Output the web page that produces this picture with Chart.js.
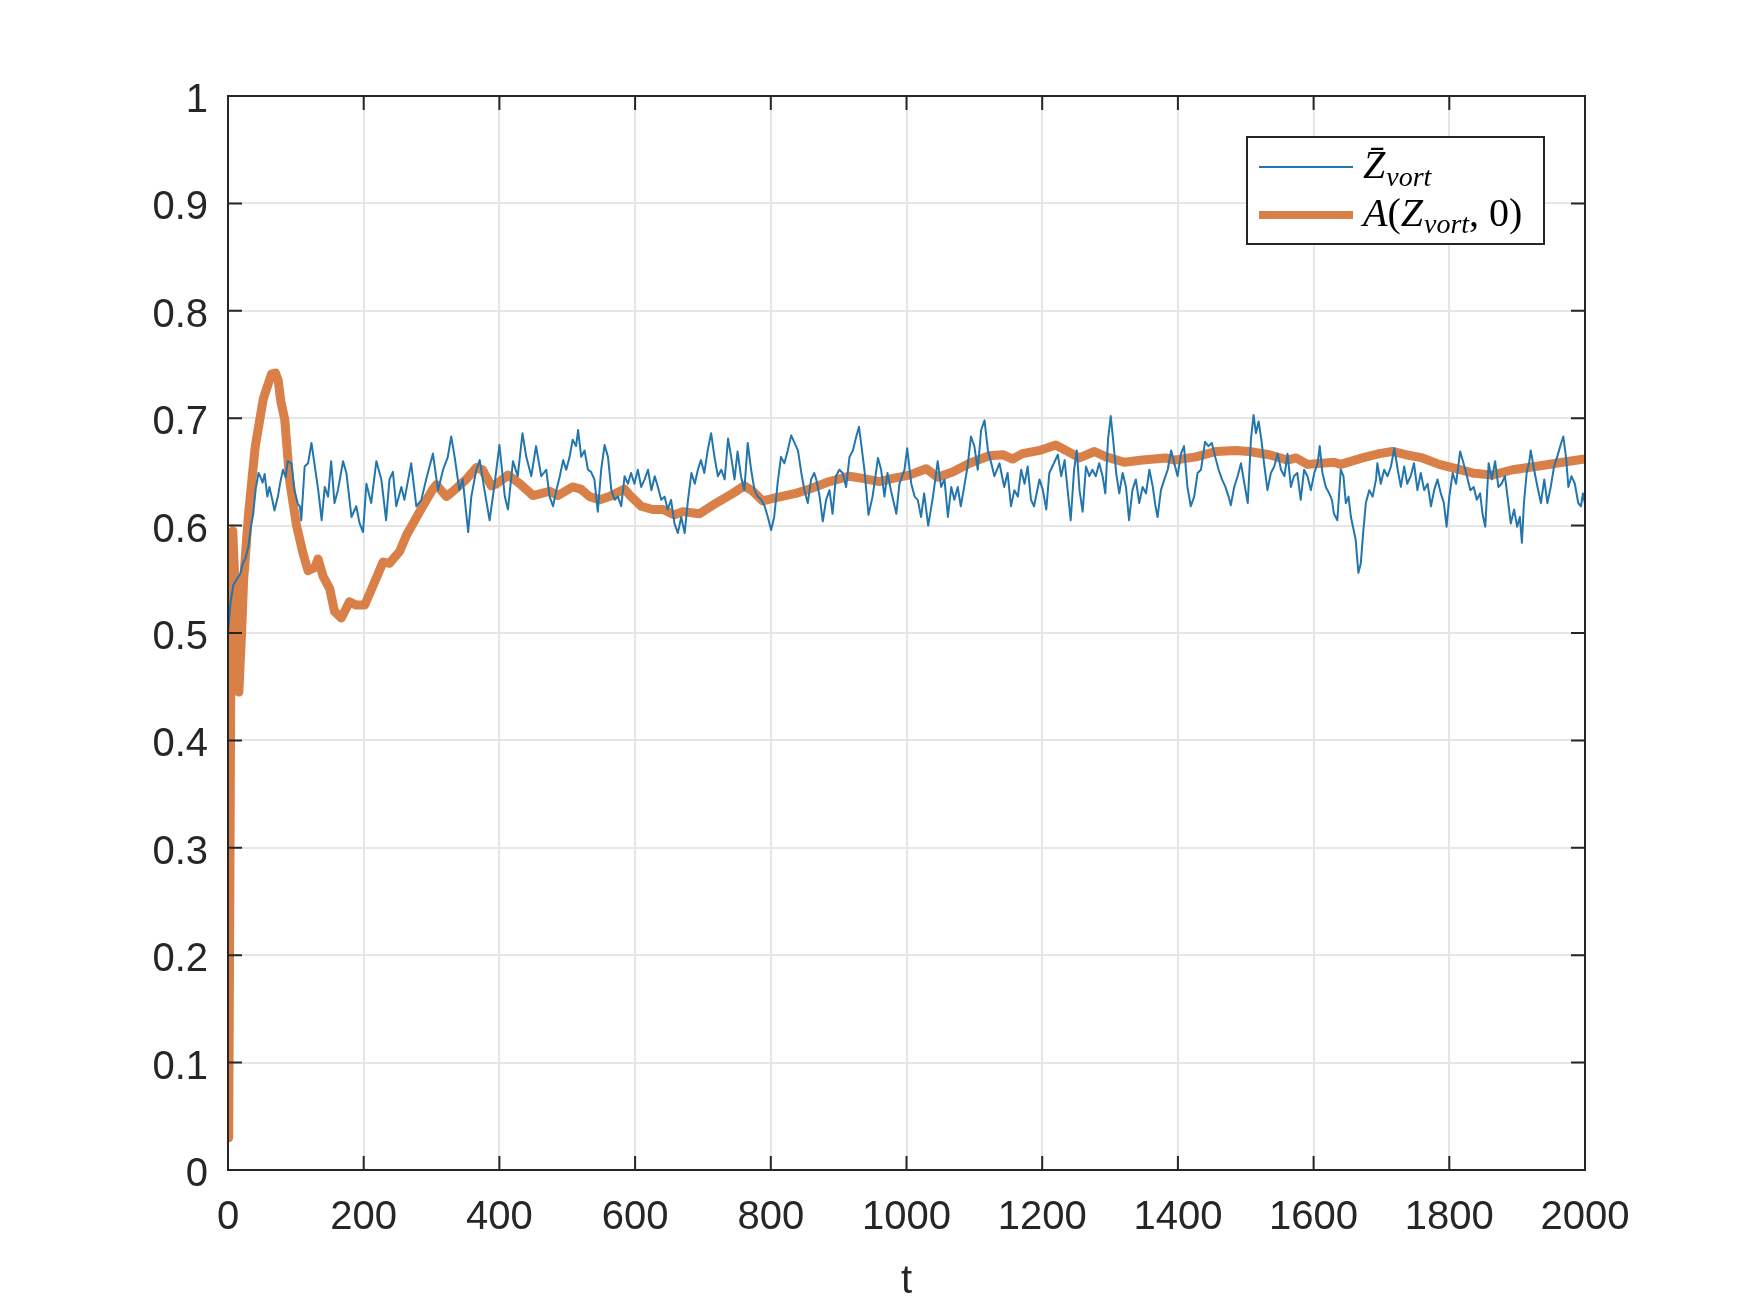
<!DOCTYPE html>
<html>
<head>
<meta charset="utf-8">
<script src="https://cdn.jsdelivr.net/npm/chart.js@4.4.1/dist/chart.umd.min.js"></script>
<style>
html,body{margin:0;padding:0;background:#fff;}
#wrap{width:1750px;height:1313px;}
</style>
</head>
<body>
<div id="wrap"><canvas id="c" width="1750" height="1313"></canvas></div>
<script>
// ---- data ----
const tBlue = [0,4,8,13,18,22,26,30,34,37,41,45,48,51,54,58,61,65,68.5,73.5,77,81,85,88,93.5,98,103,106,108,113,118,123,128,133,138,142.6,147.5,152,157,162,169.6,174.5,182,189,194,199,204,211,218.7,226,233,238,243,248,255.5,260,270,277.6,285,292,302,309.5,317,324,329,334,341,346,354,358.6,366,371,378,385.6,393,400,408,412.6,420,427,434,439.6,447,454,461.7,469,474,479,484,489,494,498.5,503.5,508,513,516,520.6,525.5,530.5,535,540,545,550,555,560,565,570,574.6,579.5,584.5,589.4,594,599,604,609,614,619,624,629,633.6,638.5,643.4,648,653,658,663,668,673,678,683,688,692.5,697,702,707,712,717,722,727,732,737,741.6,746.5,751,756,761,766,771,776,781,786,791,795.6,800.5,805,810,815,820,825,830,835,840,845,849.6,854.5,859.4,864,867,872,876.6,881.5,886.5,891,896,901,906,911,916,921,926,930,933,938,944,950,958,962.6,967.5,972,977,985,989.6,997,1001,1007,1012,1016.6,1021.5,1026,1032,1039,1046,1051,1056,1061,1066,1070.6,1075.5,1080,1085,1090,1095,1100,1105,1110,1115,1120,1125,1129.5,1137,1144,1149,1154,1159,1164,1169,1174,1178.6,1183.5,1188,1196,1201,1206,1210.5,1215,1223,1228,1233,1237.5,1242,1247,1251,1255,1259.6,1264.5,1269.5,1274,1279,1284,1289,1293,1297,1301,1305,1309,1313.6,1318.6,1323.5,1328,1333,1338,1343,1348,1353,1358,1363,1367,1370,1375,1380,1385,1390,1394.7,1399.6,1404.5,1409,1414,1419,1424,1429,1434,1440,1445,1450,1455,1460,1465,1470,1474.7,1478,1483,1488,1493,1498,1503,1507.6,1511.5,1515,1519,1523,1527,1532,1537,1542,1547,1552,1557,1561.6,1566.5,1571,1576,1581,1586,1591,1596,1601,1606,1609,1613,1618,1623,1627,1630,1635,1640,1644,1647.5,1651.5,1655,1658,1662,1666,1669.6,1673,1677,1682,1687,1692,1694,1699,1704,1709,1714,1719,1724,1728.6,1733.5,1738,1743,1748,1753,1758,1763,1768,1773,1777.7,1782.6,1787.5,1792,1796,1800,1805,1810,1816,1821,1826,1831,1836,1840.5,1845.4,1849,1853,1858,1862.6,1867.5,1872.4,1877,1882,1887,1890.6,1895.5,1900,1904,1907,1910,1914,1918,1920,1925,1930,1935,1940,1944.6,1949.5,1954.4,1959,1964,1968,1972,1975.5,1980,1985,1990,1994,1997,2000];
const vBlue = [0.50,0.53,0.545,0.55,0.555,0.565,0.57,0.58,0.60,0.61,0.635,0.649,0.645,0.640,0.648,0.627,0.636,0.625,0.614,0.627,0.64,0.652,0.645,0.66,0.658,0.633,0.62,0.618,0.605,0.655,0.658,0.677,0.655,0.633,0.605,0.636,0.627,0.66,0.621,0.633,0.66,0.649,0.608,0.618,0.602,0.594,0.639,0.621,0.66,0.643,0.605,0.643,0.65,0.618,0.636,0.624,0.658,0.618,0.624,0.643,0.667,0.633,0.652,0.664,0.683,0.664,0.633,0.643,0.594,0.627,0.652,0.661,0.633,0.605,0.639,0.675,0.627,0.615,0.66,0.646,0.686,0.664,0.646,0.674,0.646,0.652,0.627,0.618,0.633,0.646,0.661,0.652,0.664,0.68,0.674,0.689,0.664,0.67,0.652,0.65,0.643,0.613,0.652,0.675,0.664,0.633,0.624,0.627,0.618,0.646,0.639,0.649,0.639,0.652,0.636,0.643,0.652,0.633,0.646,0.636,0.624,0.627,0.615,0.624,0.602,0.593,0.608,0.593,0.624,0.649,0.639,0.652,0.661,0.649,0.670,0.686,0.664,0.646,0.652,0.643,0.681,0.664,0.643,0.669,0.646,0.633,0.677,0.652,0.633,0.627,0.624,0.618,0.608,0.596,0.608,0.639,0.664,0.658,0.67,0.684,0.677,0.67,0.649,0.633,0.621,0.643,0.649,0.643,0.627,0.604,0.624,0.633,0.611,0.646,0.652,0.649,0.636,0.664,0.67,0.683,0.692,0.677,0.652,0.61,0.627,0.663,0.652,0.627,0.649,0.633,0.611,0.639,0.652,0.672,0.639,0.627,0.624,0.608,0.63,0.6,0.627,0.66,0.636,0.643,0.608,0.636,0.624,0.636,0.618,0.636,0.655,0.683,0.674,0.652,0.689,0.698,0.67,0.658,0.646,0.658,0.636,0.649,0.618,0.633,0.627,0.652,0.639,0.655,0.624,0.618,0.643,0.633,0.615,0.649,0.655,0.666,0.646,0.661,0.633,0.605,0.652,0.67,0.633,0.613,0.655,0.646,0.652,0.646,0.658,0.646,0.63,0.68,0.702,0.677,0.649,0.63,0.649,0.636,0.605,0.633,0.643,0.621,0.636,0.63,0.652,0.636,0.618,0.608,0.633,0.643,0.652,0.67,0.658,0.646,0.667,0.674,0.636,0.618,0.627,0.649,0.652,0.678,0.674,0.677,0.664,0.652,0.643,0.636,0.627,0.619,0.636,0.646,0.658,0.639,0.621,0.68,0.703,0.686,0.697,0.68,0.658,0.633,0.649,0.655,0.667,0.652,0.646,0.667,0.636,0.646,0.649,0.624,0.652,0.646,0.633,0.649,0.658,0.674,0.649,0.636,0.63,0.624,0.611,0.605,0.652,0.646,0.621,0.627,0.608,0.599,0.587,0.556,0.565,0.593,0.621,0.633,0.627,0.643,0.658,0.639,0.652,0.646,0.655,0.672,0.652,0.636,0.655,0.639,0.646,0.658,0.633,0.649,0.633,0.639,0.618,0.633,0.643,0.63,0.621,0.599,0.627,0.649,0.639,0.669,0.658,0.646,0.633,0.636,0.624,0.63,0.611,0.599,0.658,0.643,0.66,0.636,0.639,0.646,0.621,0.602,0.615,0.599,0.608,0.584,0.621,0.649,0.66,0.67,0.652,0.636,0.621,0.643,0.621,0.636,0.655,0.664,0.675,0.683,0.664,0.636,0.646,0.639,0.621,0.618,0.63,0.62];

const tOrange = [0,1,3,5,7,10,13,16,20,23,30,40,52,64,70,74,78,83.6,91,101,110.6,118,128,132.7,140,150,157,167,179,189,201.5,213.7,228.5,238,253,263,282.5,302,307,322,331.6,351,366,375,388,396,412.7,430,449.5,474,486,508,520,533,548,562,584.5,594,609,626,641,658,670,695,719.5,744,761,773.5,788,808,837,857,886.5,916,935.5,960,980,1004,1029,1046,1068,1093,1122,1142,1156.5,1171,1196,1220,1235,1254.7,1277,1294,1321,1348,1382,1394.7,1426.6,1456,1485.5,1505,1534.6,1561.6,1574,1591,1630,1640,1672,1697,1716,1736,1760.5,1785,1810,1834,1863.6,1893,1927,1967,2000];
const vOrange = [0.10,0.03,0.30,0.58,0.595,0.55,0.48,0.445,0.50,0.549,0.609,0.673,0.718,0.741,0.742,0.735,0.715,0.699,0.641,0.60,0.574,0.558,0.561,0.569,0.553,0.541,0.52,0.514,0.529,0.526,0.526,0.544,0.566,0.565,0.576,0.591,0.613,0.634,0.638,0.627,0.632,0.643,0.654,0.652,0.637,0.639,0.647,0.639,0.628,0.632,0.628,0.636,0.634,0.627,0.624,0.627,0.634,0.627,0.618,0.615,0.615,0.61,0.613,0.611,0.621,0.63,0.637,0.632,0.623,0.626,0.63,0.634,0.641,0.646,0.644,0.641,0.644,0.647,0.653,0.645,0.65,0.658,0.665,0.666,0.662,0.667,0.67,0.675,0.67,0.663,0.669,0.664,0.659,0.661,0.663,0.661,0.664,0.669,0.67,0.669,0.666,0.661,0.663,0.657,0.659,0.657,0.663,0.667,0.669,0.666,0.663,0.657,0.653,0.649,0.647,0.652,0.655,0.659,0.662];

const xTickLabels = ['0','200','400','600','800','1000','1200','1400','1600','1800','2000'];
const yTickLabels = ['0','0.1','0.2','0.3','0.4','0.5','0.6','0.7','0.8','0.9','1'];
const seriesNames = ['Z\u0304', 'A(Z', 'vort', ', 0)'];
const xTitle = 't';

// ---- styles ----
const BLUE = '#2276AD';
const ORANGE = '#D97F48';
const AXIS = '#262626';
const GRID = '#E6E6E6';
const TICKFONT = {family: '"Liberation Sans", Arial, Helvetica, sans-serif', size: 40};

const blueData = tBlue.map((t, i) => ({x: t, y: vBlue[i]}));
const orangeData = tOrange.map((t, i) => ({x: t, y: vOrange[i]}));

const boxPlugin = {
  id: 'boxTicks',
  afterDraw(chart) {
    const ctx = chart.ctx;
    const a = chart.chartArea;
    const xs = chart.scales.x, ys = chart.scales.y;
    const L = 14;
    ctx.save();
    ctx.strokeStyle = AXIS;
    ctx.lineWidth = 2;
    ctx.beginPath();
    ctx.rect(a.left, a.top, a.right - a.left, a.bottom - a.top);
    ctx.stroke();
    ctx.beginPath();
    xs.ticks.forEach(tk => {
      const px = xs.getPixelForValue(tk.value);
      ctx.moveTo(px, a.bottom); ctx.lineTo(px, a.bottom - L);
      ctx.moveTo(px, a.top); ctx.lineTo(px, a.top + L);
    });
    ys.ticks.forEach(tk => {
      const py = ys.getPixelForValue(tk.value);
      ctx.moveTo(a.left, py); ctx.lineTo(a.left + L, py);
      ctx.moveTo(a.right, py); ctx.lineTo(a.right - L, py);
    });
    ctx.stroke();

    // legend
    const bx = 1247, by = 137, bw = 297, bh = 107;
    ctx.fillStyle = '#fff';
    ctx.fillRect(bx, by, bw, bh);
    ctx.strokeStyle = AXIS;
    ctx.lineWidth = 2;
    ctx.strokeRect(bx, by, bw, bh);
    ctx.lineCap = 'butt';
    ctx.strokeStyle = BLUE; ctx.lineWidth = 2;
    ctx.beginPath(); ctx.moveTo(1259, 167); ctx.lineTo(1353, 167); ctx.stroke();
    ctx.strokeStyle = ORANGE; ctx.lineWidth = 8;
    ctx.beginPath(); ctx.moveTo(1259, 215); ctx.lineTo(1353, 215); ctx.stroke();
    const big = 'italic 40px "Liberation Serif", "DejaVu Serif", serif';
    const sub = 'italic 28px "Liberation Serif", "DejaVu Serif", serif';
    const rom = '40px "Liberation Serif", "DejaVu Serif", serif';
    ctx.fillStyle = '#000';
    ctx.textBaseline = 'alphabetic';
    ctx.textAlign = 'left';
    let x = 1363;
    ctx.font = big; ctx.fillText(seriesNames[0], x, 178);
    x += ctx.measureText('Z').width + 1;
    ctx.font = sub; ctx.fillText(seriesNames[2], x, 186);
    x = 1363;
    ctx.font = big; ctx.fillText('A', x, 226); x += ctx.measureText('A').width;
    ctx.font = rom; ctx.fillText('(', x, 226); x += ctx.measureText('(').width;
    ctx.font = big; ctx.fillText('Z', x, 226); x += ctx.measureText('Z').width + 1;
    ctx.font = sub; ctx.fillText(seriesNames[2], x, 233); x += ctx.measureText(seriesNames[2]).width;
    ctx.font = rom; ctx.fillText(',', x, 226); x += ctx.measureText(', ').width;
    ctx.fillText('0)', x, 226);
    ctx.restore();
  }
};

new Chart(document.getElementById('c'), {
  type: 'line',
  data: {
    datasets: [
      {label: 'Zvort', data: blueData, borderColor: BLUE, borderWidth: 2, pointRadius: 0, tension: 0, fill: false, borderJoinStyle: 'round'},
      {label: 'A(Zvort,0)', data: orangeData, borderColor: ORANGE, borderWidth: 9, pointRadius: 0, tension: 0, fill: false, borderJoinStyle: 'round', borderCapStyle: 'round'}
    ]
  },
  options: {
    responsive: false,
    animation: false,
    devicePixelRatio: 1,
    layout: {padding: {left: 0, top: 96, right: 165, bottom: 0}},
    plugins: {legend: {display: false}, tooltip: {enabled: false}},
    scales: {
      x: {
        type: 'linear', min: 0, max: 2000,
        afterFit(s) { s.height = 143; },
        ticks: {stepSize: 200, font: TICKFONT, color: AXIS, padding: 24, maxRotation: 0,
          callback: (v, i) => xTickLabels[i]},
        grid: {color: GRID, lineWidth: 2, drawTicks: false},
        border: {display: true, color: AXIS, width: 2},
        title: {display: true, text: xTitle, font: TICKFONT, color: AXIS, padding: {top: 0, bottom: 7}}
      },
      y: {
        type: 'linear', min: 0, max: 1,
        afterFit(s) { s.width = 228; },
        ticks: {stepSize: 0.1, font: TICKFONT, color: AXIS, padding: 20, labelOffset: 5,
          callback: (v, i) => yTickLabels[i]},
        grid: {color: GRID, lineWidth: 2, drawTicks: false},
        border: {display: true, color: AXIS, width: 2}
      }
    }
  },
  plugins: [boxPlugin]
});
</script>
</body>
</html>
